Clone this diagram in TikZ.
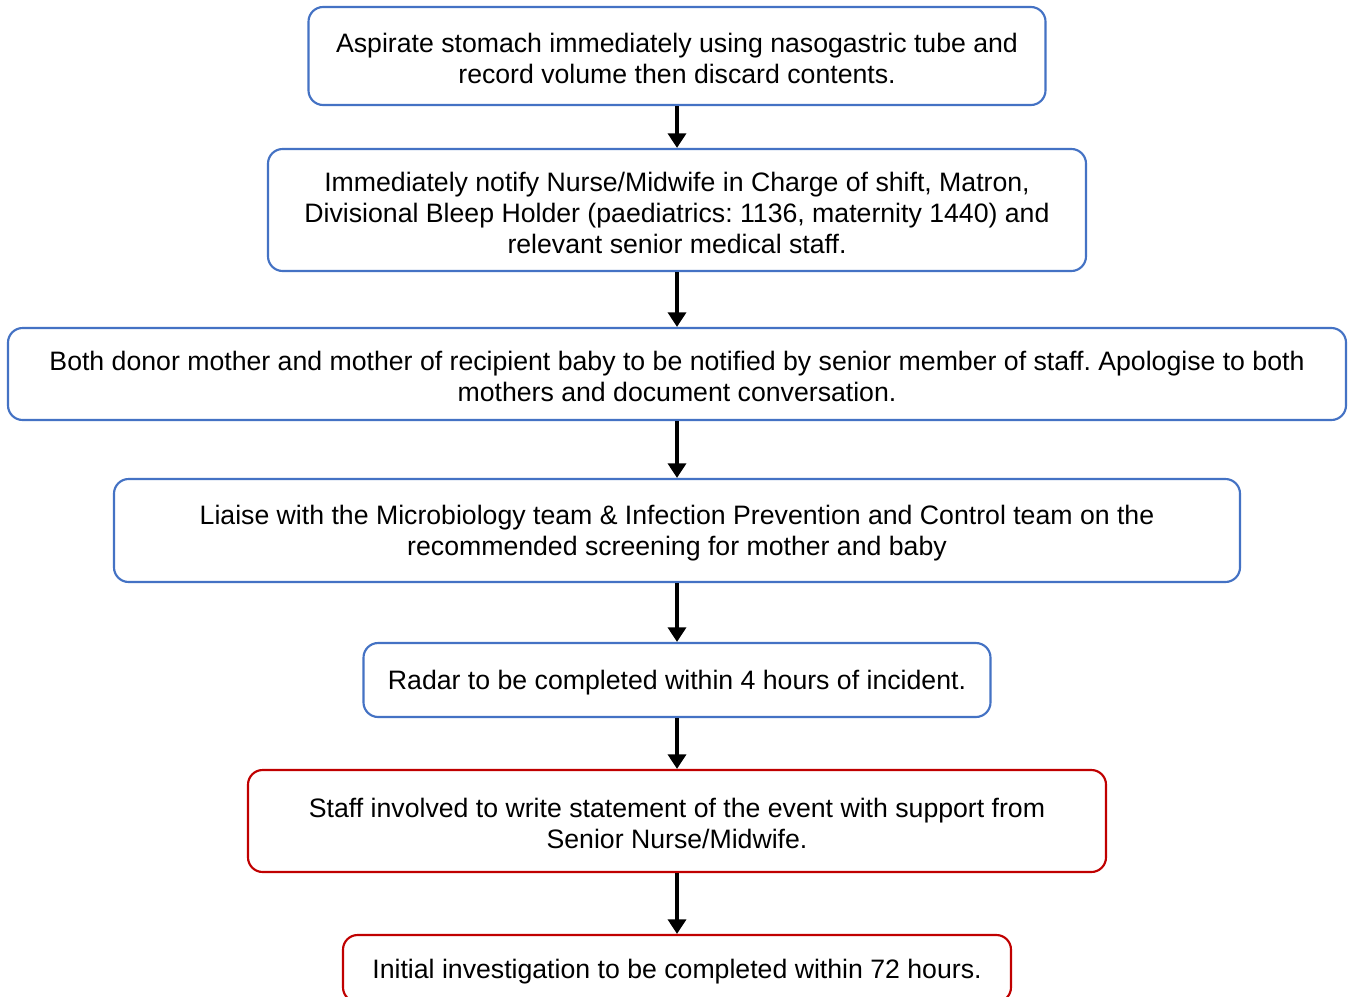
\documentclass[tikz,border=0pt]{standalone}
\usepackage{fontspec}
\setmainfont{Liberation Sans}
\frenchspacing
\usetikzlibrary{arrows.meta}
\definecolor{boxblue}{HTML}{4472C4}
\definecolor{boxred}{HTML}{C00000}
\begin{document}
\begin{tikzpicture}[x=0.75pt,y=-0.75pt,
  stepbox/.style={draw=boxblue,line width=1.6pt,rounded corners=11pt,inner sep=0pt},
  redbox/.style={stepbox,draw=boxred},
  txt/.style={align=center,inner sep=0pt,font=\fontsize{20pt}{23.25pt}\selectfont},
  arr/.style={draw=black,line width=3pt,-{Triangle[length=11pt,width=13.5pt]}}]
\clip (0,0) rectangle (1348,996);
\fill[white] (0,0) rectangle (1348,996);
\node[stepbox,minimum width=737*0.75pt,minimum height=98*0.75pt] (b1) at (677,56) {};
\node[stepbox,minimum width=818*0.75pt,minimum height=122*0.75pt] (b2) at (677,210) {};
\node[stepbox,minimum width=1338*0.75pt,minimum height=92*0.75pt] (b3) at (677,374) {};
\node[stepbox,minimum width=1126*0.75pt,minimum height=103*0.75pt] (b4) at (677,530.5) {};
\node[stepbox,minimum width=627*0.75pt,minimum height=74*0.75pt] (b5) at (677,680) {};
\node[redbox,minimum width=858*0.75pt,minimum height=102*0.75pt] (b6) at (677,821) {};
\node[redbox,minimum width=668*0.75pt,minimum height=67*0.75pt] (b7) at (677,968.5) {};
\node[txt] (t1) at ([yshift=-2.1pt]b1.center)
  {Aspirate stomach immediately using nasogastric tube and\\record volume then discard contents.};
\node[txt] (t2) at ([yshift=-2.1pt]b2.center)
  {Immediately notify Nurse/Midwife in Charge of shift, Matron,\\Divisional Bleep Holder (paediatrics: 1136, maternity 1440) and\\relevant senior medical staff.};
\node[txt] (t3) at ([yshift=-2.1pt]b3.center)
  {Both donor mother and mother of recipient baby to be notified by senior member of staff. Apologise to both\\mothers and document conversation.};
\node[txt] (t4) at ([yshift=-2.1pt]b4.center)
  {Liaise with the Microbiology team \& Infection Prevention and Control team on the\\recommended screening for mother and baby};
\node[txt] (t5) at ([yshift=-2.1pt]b5.center)
  {Radar to be completed within 4 hours of incident.};
\node[txt] (t6) at ([yshift=-2.1pt]b6.center)
  {Staff involved to write statement of the event with support from\\Senior Nurse/Midwife.};
\node[txt] (t7) at ([yshift=-2.1pt]b7.center)
  {Initial investigation to be completed within 72 hours.};
\draw[arr] (b1.south) -- (b2.north);
\draw[arr] (b2.south) -- (b3.north);
\draw[arr] (b3.south) -- (b4.north);
\draw[arr] (b4.south) -- (b5.north);
\draw[arr] (b5.south) -- (b6.north);
\draw[arr] (b6.south) -- (b7.north);
\end{tikzpicture}
\end{document}
